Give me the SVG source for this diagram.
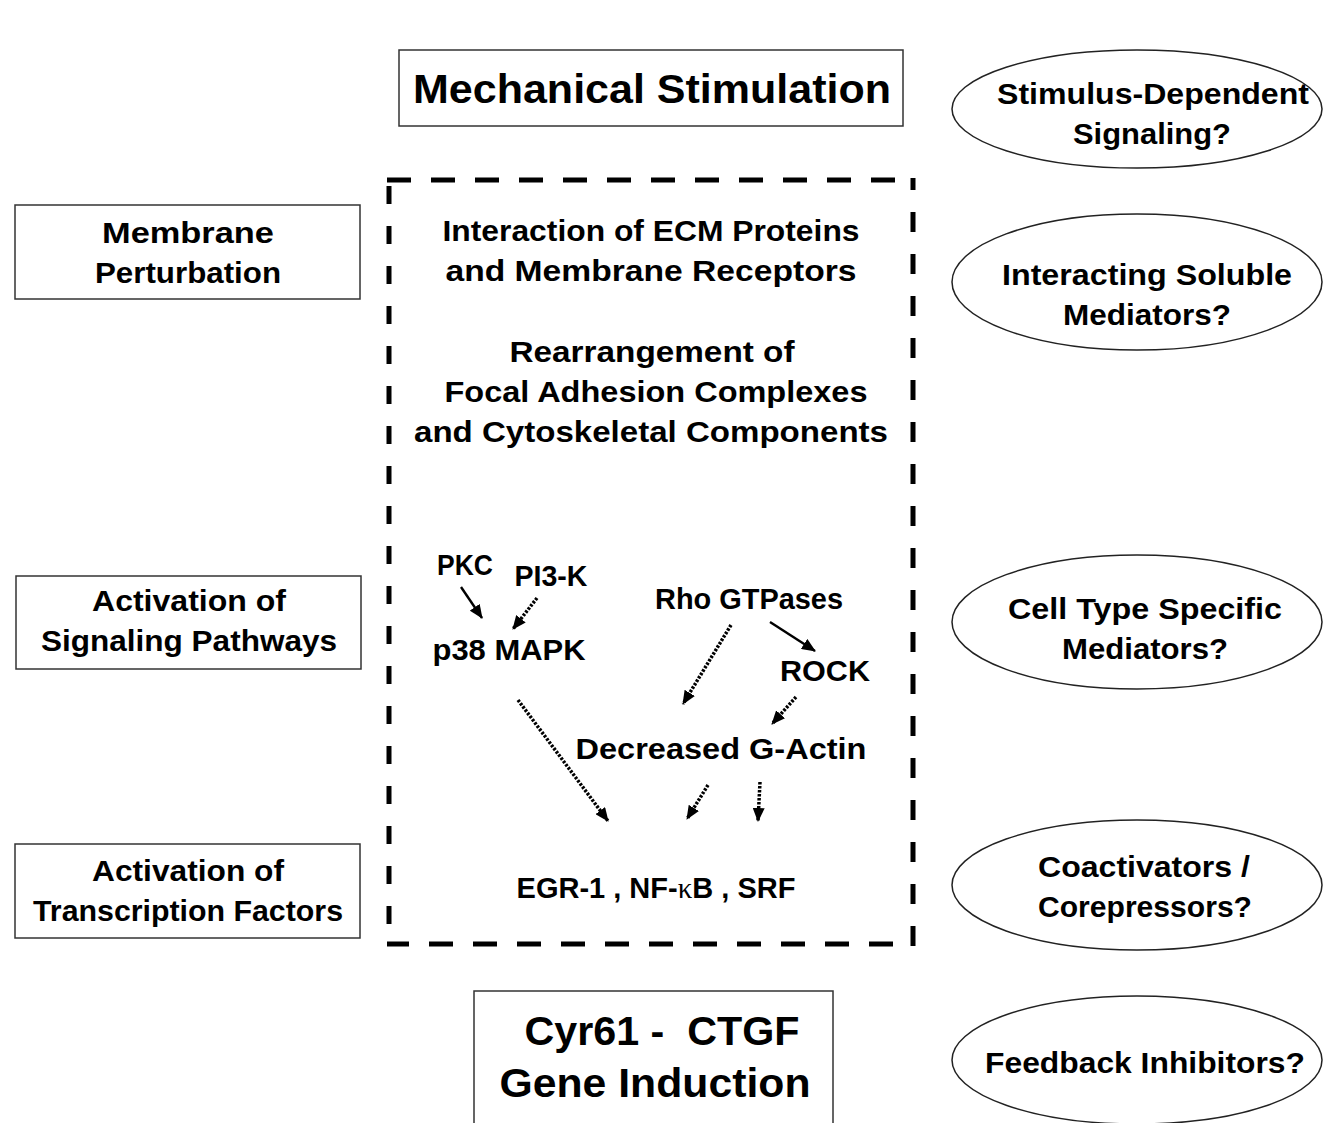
<svg xmlns="http://www.w3.org/2000/svg" width="1324" height="1123" viewBox="0 0 1324 1123">
<style>
text{font-family:"Liberation Sans",Arial,sans-serif;font-weight:bold;fill:#000;text-anchor:middle}
.box{fill:#fff;stroke:#333;stroke-width:1.5}
.ell{fill:#fff;stroke:#222;stroke-width:1.5}
.dash{stroke:#000;stroke-width:5;fill:none}
.solid{stroke:#000;stroke-width:2.4;fill:none}
.dot{stroke:#000;stroke-width:3.5;stroke-dasharray:2.5 1.5;fill:none}
.t28{font-size:29px}
.t40{font-size:41px}
</style>
<defs>
<marker id="ah" viewBox="0 0 14 12" refX="13" refY="6" markerWidth="14" markerHeight="12" orient="auto" markerUnits="userSpaceOnUse">
<path d="M0,0 L14,6 L0,12 z" fill="#000"/>
</marker>
</defs>
<rect width="1324" height="1123" fill="#fff"/>

<g id="mechanical-stimulation">
<rect class="box" x="399" y="50" width="504" height="76"/>
<text class="t40" x="652" y="103" textLength="478" lengthAdjust="spacingAndGlyphs">Mechanical Stimulation</text>
</g>

<g id="membrane-perturbation">
<rect class="box" x="15" y="205" width="345" height="94"/>
<text class="t28" x="188" y="243" textLength="172" lengthAdjust="spacingAndGlyphs">Membrane</text>
<text class="t28" x="188" y="283" textLength="186" lengthAdjust="spacingAndGlyphs">Perturbation</text>
</g>

<g id="activation-signaling">
<rect class="box" x="16" y="576" width="345" height="93"/>
<text class="t28" x="189" y="611" textLength="194" lengthAdjust="spacingAndGlyphs">Activation of</text>
<text class="t28" x="189" y="651" textLength="296" lengthAdjust="spacingAndGlyphs">Signaling Pathways</text>
</g>

<g id="activation-transcription">
<rect class="box" x="15" y="844" width="345" height="94"/>
<text class="t28" x="188" y="881" textLength="192" lengthAdjust="spacingAndGlyphs">Activation of</text>
<text class="t28" x="188" y="921" textLength="310" lengthAdjust="spacingAndGlyphs">Transcription Factors</text>
</g>

<g id="cell-boundary">
<line class="dash" x1="387" y1="180" x2="915" y2="180" stroke-dasharray="24 20"/>
<line class="dash" x1="387" y1="944" x2="905" y2="944" stroke-dasharray="24 20" stroke-dashoffset="2"/>
<line class="dash" x1="389" y1="178" x2="389" y2="946" stroke-dasharray="18 22" stroke-dashoffset="-8"/>
<line class="dash" x1="913" y1="946" x2="913" y2="178" stroke-dasharray="20 22"/>
</g>

<g id="ecm-interaction">
<text class="t28" x="651" y="241" textLength="417" lengthAdjust="spacingAndGlyphs">Interaction of ECM Proteins</text>
<text class="t28" x="651" y="281" textLength="411" lengthAdjust="spacingAndGlyphs">and Membrane Receptors</text>
</g>

<g id="focal-adhesion">
<text class="t28" x="652" y="362" textLength="285" lengthAdjust="spacingAndGlyphs">Rearrangement of</text>
<text class="t28" x="656" y="402" textLength="423" lengthAdjust="spacingAndGlyphs">Focal Adhesion Complexes</text>
<text class="t28" x="651" y="442" textLength="474" lengthAdjust="spacingAndGlyphs">and Cytoskeletal Components</text>
</g>

<g id="pkc"><text class="t28" x="465" y="575" textLength="56" lengthAdjust="spacingAndGlyphs">PKC</text></g>
<g id="pi3k"><text class="t28" x="551" y="586" textLength="73" lengthAdjust="spacingAndGlyphs">PI3-K</text></g>
<g id="p38"><text class="t28" x="509" y="660" textLength="153" lengthAdjust="spacingAndGlyphs">p38 MAPK</text></g>
<g id="rho"><text class="t28" x="749" y="609" textLength="188" lengthAdjust="spacingAndGlyphs">Rho GTPases</text></g>
<g id="rock"><text class="t28" x="825" y="681" textLength="90" lengthAdjust="spacingAndGlyphs">ROCK</text></g>
<g id="g-actin"><text class="t28" x="721" y="759" textLength="291" lengthAdjust="spacingAndGlyphs">Decreased G-Actin</text></g>
<g id="transcription-factors"><text class="t28" x="656" y="898" xml:space="preserve">EGR-1 , NF-<tspan font-family="'Liberation Serif',serif" font-weight="normal">κ</tspan>B , SRF</text></g>

<g id="gene-induction">
<rect class="box" x="474" y="991" width="359" height="140"/>
<text class="t40" x="662" y="1045" xml:space="preserve" textLength="275" lengthAdjust="spacingAndGlyphs">Cyr61 -  CTGF</text>
<text class="t40" x="655" y="1097" textLength="311" lengthAdjust="spacingAndGlyphs">Gene Induction</text>
</g>

<g id="stimulus-dependent">
<ellipse class="ell" cx="1137" cy="109" rx="185" ry="59"/>
<text class="t28" x="1153" y="104" textLength="312" lengthAdjust="spacingAndGlyphs">Stimulus-Dependent</text>
<text class="t28" x="1152" y="144" textLength="158" lengthAdjust="spacingAndGlyphs">Signaling?</text>
</g>
<g id="soluble-mediators">
<ellipse class="ell" cx="1137" cy="282" rx="185" ry="68"/>
<text class="t28" x="1147" y="285" textLength="290" lengthAdjust="spacingAndGlyphs">Interacting Soluble</text>
<text class="t28" x="1147" y="325" textLength="168" lengthAdjust="spacingAndGlyphs">Mediators?</text>
</g>
<g id="cell-type-mediators">
<ellipse class="ell" cx="1137" cy="622" rx="185" ry="67"/>
<text class="t28" x="1145" y="619" textLength="274" lengthAdjust="spacingAndGlyphs">Cell Type Specific</text>
<text class="t28" x="1145" y="659" textLength="166" lengthAdjust="spacingAndGlyphs">Mediators?</text>
</g>
<g id="coactivators">
<ellipse class="ell" cx="1137" cy="885" rx="185" ry="65"/>
<text class="t28" x="1144" y="877" textLength="212" lengthAdjust="spacingAndGlyphs">Coactivators /</text>
<text class="t28" x="1145" y="917" textLength="214" lengthAdjust="spacingAndGlyphs">Corepressors?</text>
</g>
<g id="feedback-inhibitors">
<ellipse class="ell" cx="1137" cy="1060" rx="185" ry="64"/>
<text class="t28" x="1145" y="1073" textLength="320" lengthAdjust="spacingAndGlyphs">Feedback Inhibitors?</text>
</g>

<g id="connectors">
<line class="solid" x1="461" y1="587" x2="482" y2="618" marker-end="url(#ah)"/>
<line class="dot" x1="537" y1="598" x2="513" y2="629" marker-end="url(#ah)"/>
<line class="dot" x1="731" y1="625" x2="683" y2="704" marker-end="url(#ah)"/>
<line class="solid" x1="770" y1="622" x2="815" y2="651" marker-end="url(#ah)"/>
<line class="dot" x1="796" y1="697" x2="772" y2="724" marker-end="url(#ah)"/>
<line class="dot" x1="518" y1="700" x2="608" y2="821" marker-end="url(#ah)"/>
<line class="dot" x1="708" y1="785" x2="687" y2="819" marker-end="url(#ah)"/>
<line class="dot" x1="760" y1="782" x2="758" y2="821" marker-end="url(#ah)"/>
</g>
</svg>
